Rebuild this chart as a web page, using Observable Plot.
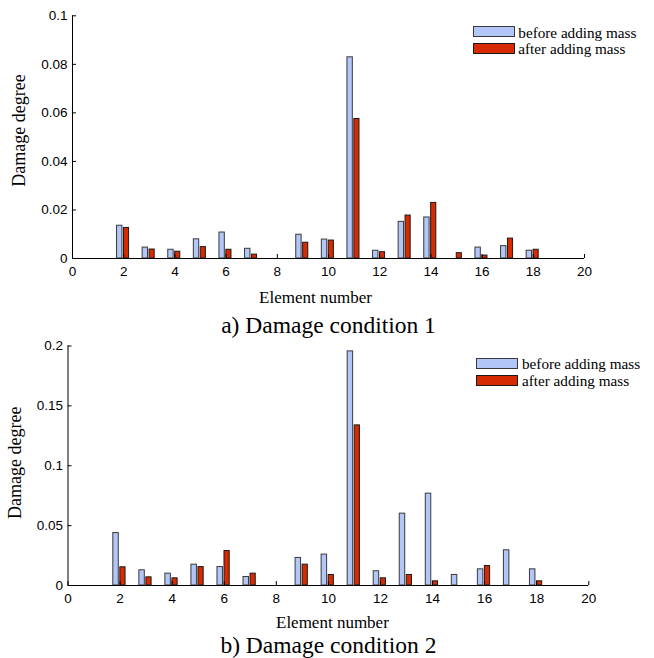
<!DOCTYPE html>
<html>
<head>
<meta charset="utf-8">
<script src="https://cdn.jsdelivr.net/npm/d3@7"></script>
<script src="https://cdn.jsdelivr.net/npm/@observablehq/plot@0.6"></script>
<style>
  html, body { margin: 0; padding: 0; background: #fff; overflow: hidden; }
  #page { position: relative; width: 654px; height: 658px; }
  .panel { position: absolute; left: 0; }
  .sw { position: absolute; box-sizing: border-box; height: 11px; width: 42.6px; }
  .lg { position: absolute; font-family: "Liberation Serif", "Times New Roman", serif;
        font-size: 15.2px; line-height: 13px; height: 13px; white-space: nowrap; color: #000; }
</style>
</head>
<body>
<div id="page">
  <div class="panel" id="panelA" style="top:0"></div>
  <div class="panel" id="panelB" style="top:340px"></div>
</div>
<script>
// Element numbers and identified damage degree per element
const elements = [1, 2, 3, 4, 5, 6, 7, 8, 9, 10, 11, 12, 13, 14, 15, 16, 17, 18, 19, 20];

// Damage condition 1
const before1 = [0, 0.0135, 0.0045, 0.0036, 0.0079, 0.0107, 0.0040, 0, 0.0098, 0.0078,
                 0.0829, 0.0032, 0.0151, 0.0169, 0, 0.0045, 0.0051, 0.0032, 0, 0];
const after1  = [0, 0.0126, 0.0037, 0.0028, 0.0047, 0.0036, 0.0016, 0, 0.0065, 0.0074,
                 0.0575, 0.0026, 0.0177, 0.0229, 0.0022, 0.0012, 0.0082, 0.0036, 0, 0];

// Damage condition 2
const before2 = [0, 0.0438, 0.0127, 0.0099, 0.0174, 0.0154, 0.0071, 0, 0.0230, 0.0258,
                 0.1955, 0.0119, 0.0600, 0.0767, 0.0088, 0.0135, 0.0294, 0.0135, 0, 0];
const after2  = [0, 0.0152, 0.0068, 0.0060, 0.0154, 0.0288, 0.0099, 0, 0.0174, 0.0088,
                 0.1337, 0.0060, 0.0088, 0.0035, 0, 0.0163, 0, 0.0035, 0, 0];

// Axis ticks
const xTicks = [0, 2, 4, 6, 8, 10, 12, 14, 16, 18, 20];
const yTicks1 = [0, 0.02, 0.04, 0.06, 0.08, 0.1];
const yTicks2 = [0, 0.05, 0.1, 0.15, 0.2];

const seriesNames = ["before adding mass", "after adding mass"];
const BLUE = "#b2c6f8", RED = "#d82a00";
const SERIF = "Liberation Serif, Times New Roman, serif";
const SANS = "Liberation Sans, Arial, sans-serif";

// bar positions relative to the element number (grouped bars)
const beforeSpan = [-0.26, -0.05];
const afterSpan = [0.01, 0.21];

function rows(before, after) {
  return elements.map((e, i) => ({element: e, before: before[i], after: after[i]}));
}

function panel({data, yMax, yTicks, top, bottomAxis, left, right, height,
                xTitleDy, xTitleDx, caption, captionDy, yTitleDy}) {
  const fmt = d3.format("~g");
  return Plot.plot({
    width: 654,
    height,
    marginTop: top,
    marginBottom: height - bottomAxis,
    marginLeft: left,
    marginRight: 654 - right,
    style: {fontFamily: SANS, fontSize: "13.5px", color: "#000", background: "transparent", overflow: "visible"},
    x: {domain: [0, 20]},
    y: {domain: [0, yMax]},
    marks: [
      Plot.rectY(data.filter(d => d.before > 0), {
        x1: d => d.element + beforeSpan[0], x2: d => d.element + beforeSpan[1], y: "before",
        fill: BLUE, stroke: "#3a3a3a", strokeWidth: 1
      }),
      Plot.rectY(data.filter(d => d.after > 0), {
        x1: d => d.element + afterSpan[0], x2: d => d.element + afterSpan[1], y: "after",
        fill: RED, stroke: "#1a1a1a", strokeWidth: 1
      }),
      Plot.ruleX([0], {stroke: "#000", strokeWidth: 1}),
      Plot.ruleY([0], {stroke: "#000", strokeWidth: 1}),
      Plot.axisX({ticks: xTicks, tickSize: -4, tickPadding: 12, label: null, tickFormat: fmt}),
      Plot.axisY({ticks: yTicks, tickSize: -4, tickPadding: 9, label: null, tickFormat: fmt}),
      Plot.text(["Element number"], {
        text: d => d, frameAnchor: "bottom", lineAnchor: "bottom", dy: xTitleDy, dx: xTitleDx,
        fontFamily: SERIF, fontSize: 17
      }),
      Plot.text([caption], {
        text: d => d, frameAnchor: "bottom", lineAnchor: "bottom", dy: captionDy,
        fontFamily: SERIF, fontSize: 23.5
      }),
      Plot.text(["Damage degree"], {
        text: d => d, frameAnchor: "left", textAnchor: "middle", lineAnchor: "middle",
        rotate: -90, dx: -53, dy: yTitleDy,
        fontFamily: SERIF, fontSize: 18
      })
    ]
  });
}

document.getElementById("panelA").append(panel({
  data: rows(before1, after1), yMax: 0.1, yTicks: yTicks1,
  top: 15.3, bottomAxis: 258, left: 72, right: 584, height: 340,
  xTitleDy: 44.5, xTitleDx: -13, caption: "a) Damage condition 1", captionDy: 74, yTitleDy: -6.6
}));

document.getElementById("panelB").append(panel({
  data: rows(before2, after2), yMax: 0.2, yTicks: yTicks2,
  top: 5.5, bottomAxis: 245, left: 67.5, right: 588.3, height: 318,
  xTitleDy: 42, xTitleDx: 4, caption: "b) Damage condition 2", captionDy: 67, yTitleDy: -3
}));

// Legends: swatch + label rows
function legend(x, y, textX) {
  const page = document.getElementById("page");
  const colors = [BLUE, RED];
  const borders = ["#3a3a3a", "#1a1a1a"];
  const rowStep = 16.9;
  seriesNames.forEach((name, i) => {
    const top = y + i * rowStep;
    const sw = document.createElement("div");
    sw.className = "sw";
    sw.style.left = x + "px";
    sw.style.top = top + "px";
    sw.style.background = colors[i];
    sw.style.border = "1px solid " + borders[i];
    page.append(sw);
    const t = document.createElement("div");
    t.className = "lg";
    t.style.left = textX + "px";
    t.style.top = (top - 0.8) + "px";
    t.textContent = name;
    page.append(t);
  });
}
legend(472.7, 26.3, 518.3);
legend(475.7, 357.8, 522);
</script>
</body>
</html>
